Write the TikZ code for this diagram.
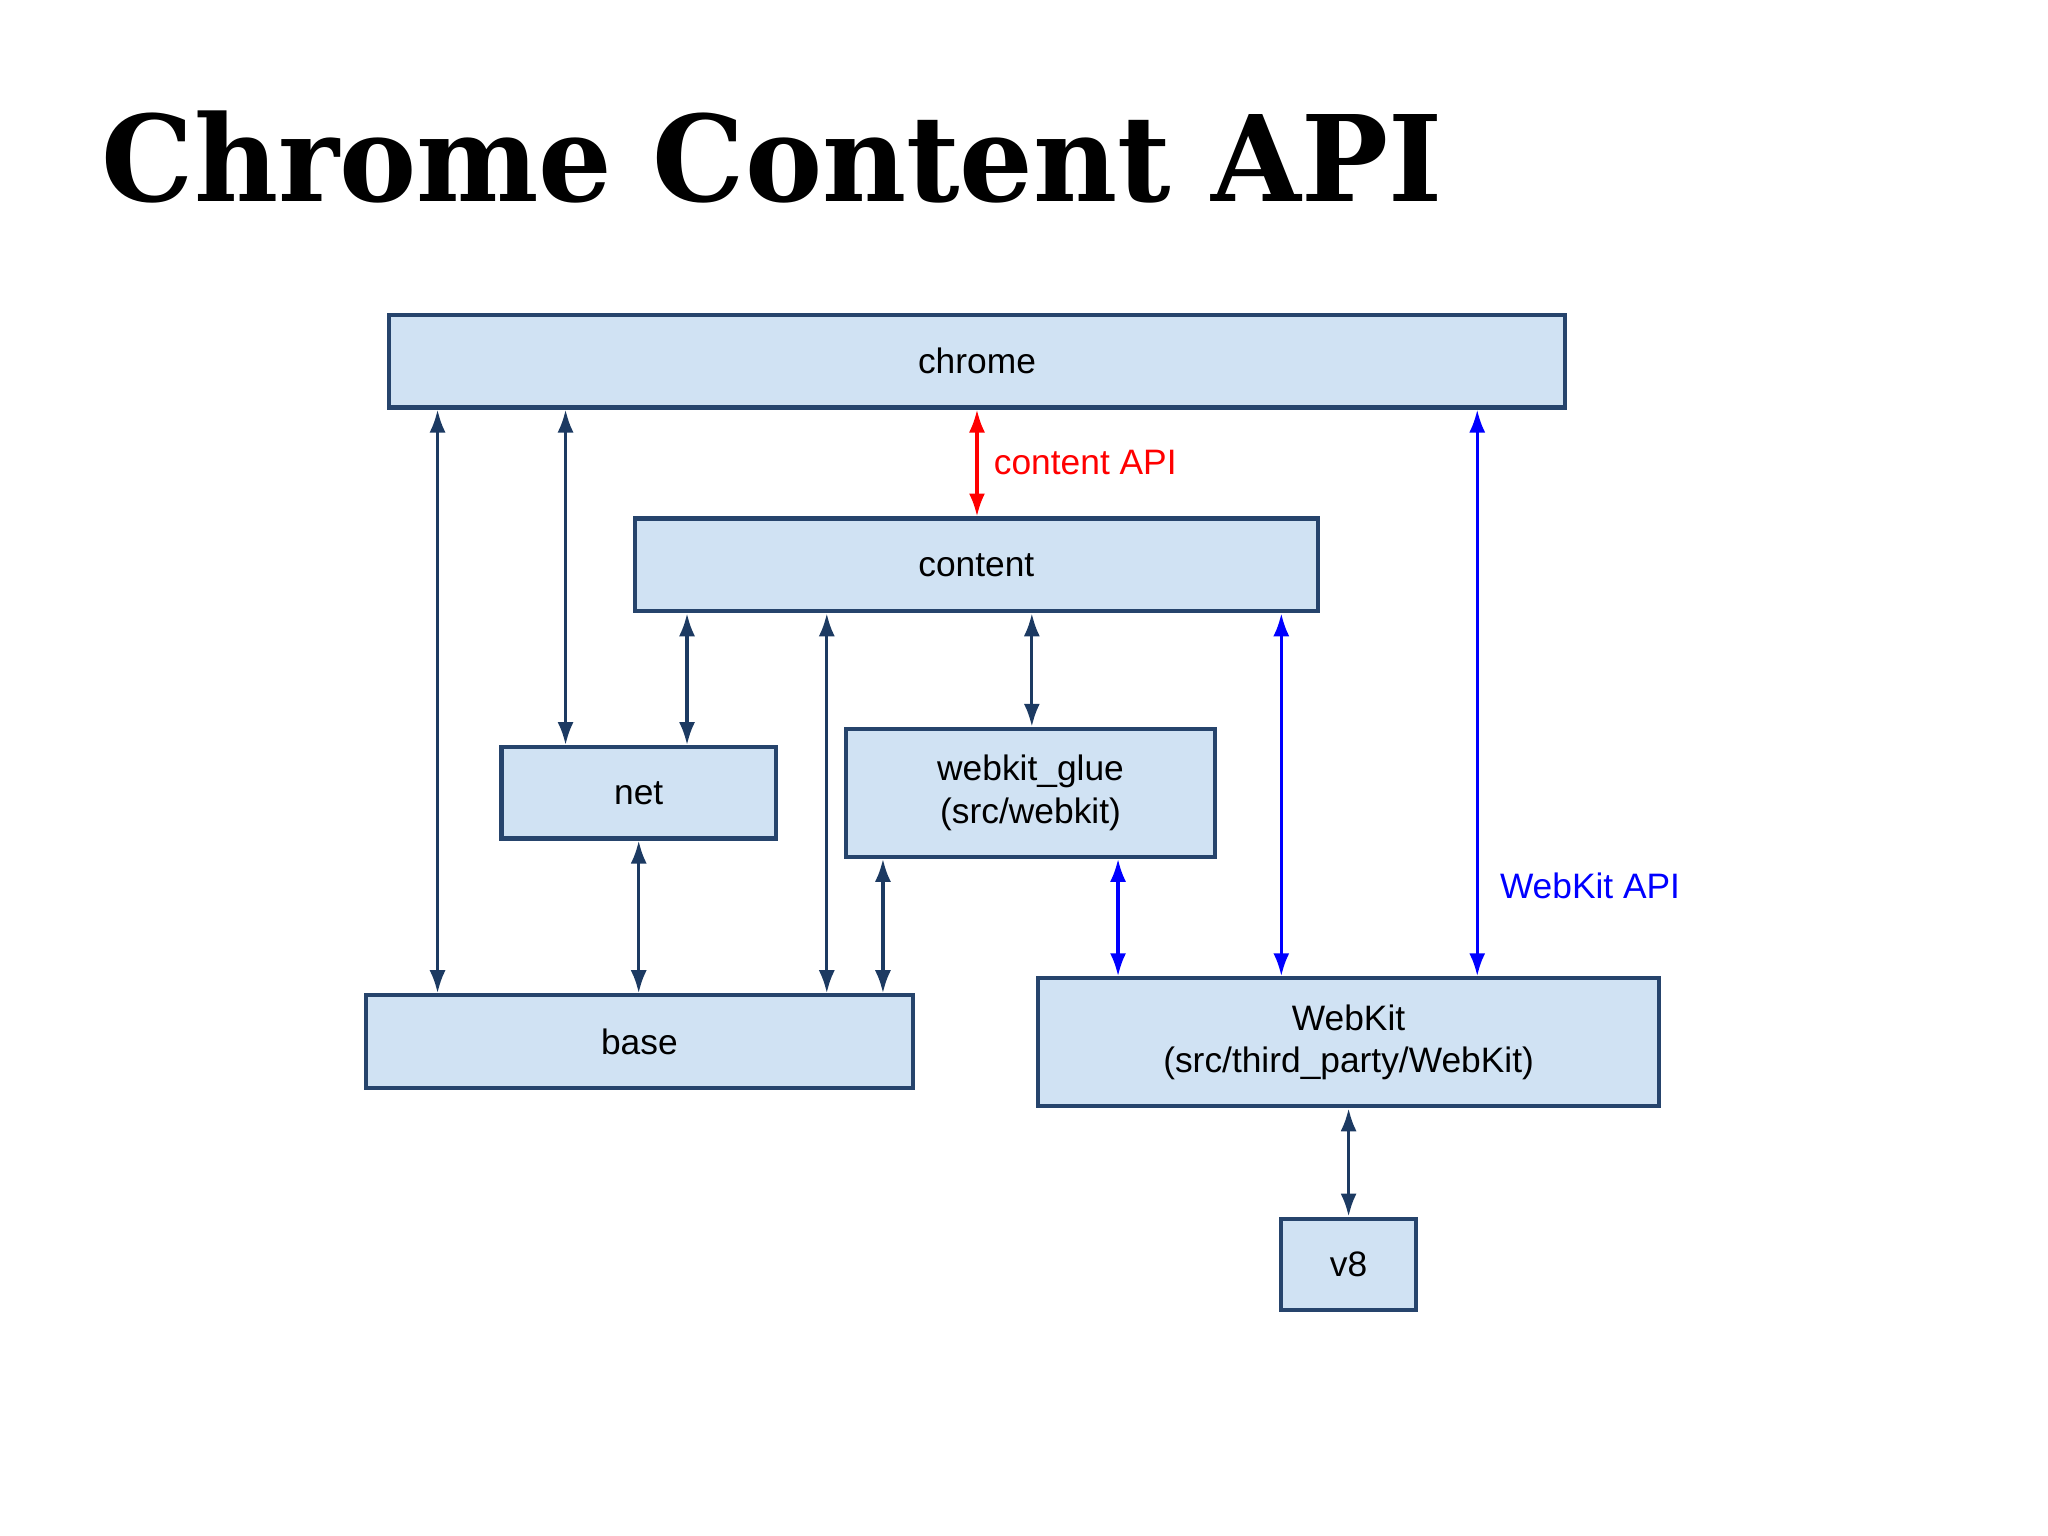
\documentclass[tikz,border=0pt]{standalone}
\usepackage{fontspec}
\setmainfont{Liberation Sans}
\newfontfamily\titlefont{DejaVu Serif}
\usetikzlibrary{arrows.meta}
\definecolor{BoxFill}{RGB}{208,226,243}
\definecolor{BoxLine}{RGB}{38,68,108}
\definecolor{ArrowNavy}{RGB}{28,58,98}

\begin{document}
\begin{tikzpicture}[font=\fontsize{7.7}{9.2}\selectfont]
    \tikzstyle{mod} = [draw=BoxLine, line width=0.9pt, fill=BoxFill, rectangle, inner sep=0pt, align=center]
    \tikzstyle{dep} = [ArrowNavy, line width=0.7pt, {Latex[length=5pt,width=3.5pt]}-{Latex[length=5pt,width=3.5pt]}]
    \useasboundingbox (0,0) rectangle (15.68,-11.76);

    \node[anchor=west, font=\titlefont\bfseries\fontsize{26}{30}\selectfont, xscale=0.97] (title) at (0.66,-1.2) {Chrome Content API};

    \node[mod, minimum width=9cm, minimum height=0.71cm] (chrome) at (7.48,-2.765) {chrome};
    \node[mod, minimum width=5.23cm, minimum height=0.71cm] (content) at (7.475,-4.325) {content};
    \node[mod, minimum width=2.1cm, minimum height=0.7cm] (net) at (4.89,-6.07) {net};
    \node[mod, minimum width=2.82cm, minimum height=0.98cm] (glue) at (7.89,-6.07) {webkit\_glue\\(src/webkit)};
    \node[mod, minimum width=4.19cm, minimum height=0.71cm] (base) at (4.895,-7.975) {base};
    \node[mod, minimum width=4.75cm, minimum height=0.98cm] (webkit) at (10.325,-7.98) {WebKit\\(src/third\_party/WebKit)};
    \node[mod, minimum width=1.03cm, minimum height=0.7cm] (v8) at (10.325,-9.68) {v8};

    % chrome
    \draw[dep] (chrome.south -| 3.35,0) -- (base.north -| 3.35,0);
    \draw[dep] (chrome.south -| 4.33,0) -- (net.north -| 4.33,0);
    \draw[dep, red] (chrome.south -| 7.48,0) -- node[right] (capi) {content API} (content.north -| 7.48,0);
    \draw[dep, blue] (chrome.south -| 11.31,0) -- (webkit.north -| 11.31,0);
    \node[blue, anchor=west] (wapi) at (11.36,-6.78) {WebKit API};

    % content
    \draw[dep] (content.south -| 5.26,0) -- (net.north -| 5.26,0);
    \draw[dep] (content.south -| 6.33,0) -- (base.north -| 6.33,0);
    \draw[dep] (content.south -| 7.90,0) -- (glue.north -| 7.90,0);
    \draw[dep, blue] (content.south -| 9.81,0) -- (webkit.north -| 9.81,0);

    % lower level
    \draw[dep] (net.south) -- (base.north -| net.south);
    \draw[dep] (glue.south -| 6.76,0) -- (base.north -| 6.76,0);
    \draw[dep, blue] (glue.south -| 8.56,0) -- (webkit.north -| 8.56,0);
    \draw[dep] (webkit.south) -- (v8.north);
\end{tikzpicture}
\end{document}
